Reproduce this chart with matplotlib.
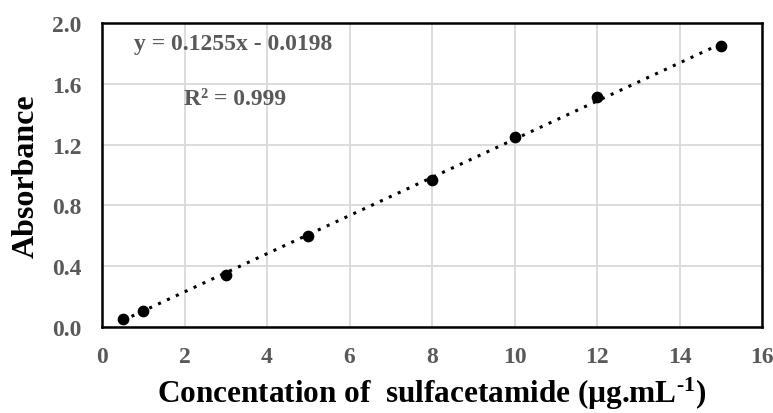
import matplotlib
matplotlib.use("Agg")
import matplotlib.pyplot as plt
import numpy as np

conc = [0.5, 1, 3, 5, 8, 10, 12, 15]
absorb = [0.05, 0.107, 0.342, 0.599, 0.97, 1.252, 1.515, 1.849]
slope = 0.1255
intercept = -0.0198
eq_text = "y = 0.1255x - 0.0198"
r2_text = "R² = 0.999"
xticks = [0, 2, 4, 6, 8, 10, 12, 14, 16]
yticks = [0.0, 0.4, 0.8, 1.2, 1.6, 2.0]

plt.rcParams['font.family'] = ['Liberation Serif', 'DejaVu Serif']
plt.rcParams['mathtext.fontset'] = 'custom'
plt.rcParams['mathtext.rm'] = 'Liberation Serif:bold'
plt.rcParams['mathtext.bf'] = 'Liberation Serif:bold'
plt.rcParams['mathtext.it'] = 'Liberation Serif:bold'
plt.rcParams['mathtext.default'] = 'bf'

fig = plt.figure(figsize=(7.73, 4.14), dpi=100)
ax = fig.add_axes([102/773, 1-328/414, (762-102)/773, (328-24)/414])

xs = np.array([conc[0], conc[-1]])
ax.plot(xs, slope*xs + intercept, linestyle=(0, (1, 2.2)), color='black', lw=2.2, zorder=2)
ax.scatter(conc, absorb, s=55, color='black', zorder=3)

ax.set_xlim(0, 16)
ax.set_ylim(0, 2.0)
ax.set_xticks(xticks)
ax.set_yticks(yticks)
ax.set_yticklabels([f"{v:.1f}" for v in yticks])
ax.grid(True, color='#d9d9d9', lw=1.3)
ax.set_axisbelow(True)
for s in ax.spines.values():
    s.set_color('black')
    s.set_linewidth(1.8)
ax.tick_params(length=0, labelsize=17, colors='#595959')
ax.tick_params(axis='x', pad=14)
ax.tick_params(axis='y', pad=15)
for lab in ax.get_xticklabels() + ax.get_yticklabels():
    lab.set_fontweight('bold')

ax.set_xlabel("Concentation of  sulfacetamide (µg.mL$^{\\text{-1}}$)", fontsize=22.5, fontweight='bold', labelpad=5)
ax.set_ylabel("Absorbance", fontsize=23, fontweight='bold', labelpad=8)

ax.text(0.198, 0.931, eq_text, transform=ax.transAxes, fontsize=17, fontweight='bold', color='#595959', ha='center', va='center')
ax.text(0.202, 0.75, r2_text, transform=ax.transAxes, fontsize=17, fontweight='bold', color='#595959', ha='center', va='center')

fig.savefig("out.png", dpi=100)
